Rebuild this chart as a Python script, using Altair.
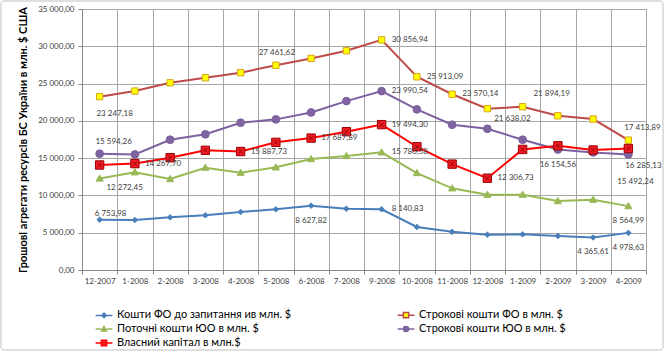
import altair as alt
import pandas as pd

categories = ["12-2007", "1-2008", "2-2008", "3-2008", "4-2008", "5-2008", "6-2008", "7-2008",
              "9-2008", "10-2008", "11-2008", "12-2008", "1-2009", "2-2009", "3-2009", "4-2009"]

series_names = [
    "Кошти ФО до запитання ив млн. $",
    "Строкові кошти ФО в млн. $",
    "Поточні кошти ЮО в млн. $",
    "Строкові кошти ЮО в млн. $",
    "Власний капітал в млн.$",
]

fo_demand = [6753.98, 6700, 7060, 7330, 7780, 8140, 8627.82, 8220, 8140.83, 5770, 5120, 4740, 4780, 4560, 4365.61, 4978.63]
fo_term = [23247.18, 24000, 25100, 25780, 26460, 27461.62, 28370, 29400, 30856.94, 25913.09, 23570.14, 21638.02, 21894.19, 20680, 20240, 17413.89]
yuo_current = [12272.45, 13100, 12200, 13720, 13050, 13770, 14880, 15290, 15780.58, 13000, 10950, 10100, 10100, 9250, 9430, 8564.99]
yuo_term = [15594.26, 15500, 17470, 18200, 19750, 20200, 21130, 22650, 23990.54, 21540, 19480, 18940, 17470, 16154.56, 15770, 15492.24]
equity = [14080, 14267.70, 15060, 16050, 15887.73, 17120, 17687.89, 18550, 19494.30, 16530, 14200, 12306.73, 16170, 16660, 16090, 16285.13]

all_values = [fo_demand, fo_term, yuo_current, yuo_term, equity]

# legend reads down the first column, then the second
legend_order = [0, 2, 4, 1, 3]

# which values carry a data label, and where the label sits relative to its point
label_specs = [
    (0, "12-2007", "above_near"), (0, "6-2008", "below"), (0, "9-2008", "right"),
    (0, "3-2009", "below"), (0, "4-2009", "below"),
    (1, "12-2007", "below_right"), (1, "5-2008", "above_center"), (1, "9-2008", "right"),
    (1, "10-2008", "right"), (1, "11-2008", "right"), (1, "12-2008", "right_below"),
    (1, "1-2009", "above_right"), (1, "4-2009", "above"),
    (2, "12-2007", "right_below"), (2, "9-2008", "right"), (2, "4-2009", "below"),
    (3, "12-2007", "above"), (3, "9-2008", "right"), (3, "2-2009", "below"), (3, "4-2009", "below_far"),
    (4, "1-2008", "right"), (4, "4-2008", "right"), (4, "6-2008", "right"), (4, "9-2008", "right"),
    (4, "12-2008", "right"), (4, "4-2009", "below_right"),
]

placements = {
    "right": dict(align="left", dx=10, dy=0),
    "right_below": dict(align="center", dx=25, dy=10),
    "below": dict(align="center", dx=0, dy=15),
    "below_right": dict(align="center", dx=15, dy=17),
    "below_far": dict(align="center", dx=7, dy=28),
    "above": dict(align="center", dx=14, dy=-12),
    "above_center": dict(align="center", dx=1, dy=-12),
    "above_right": dict(align="center", dx=29, dy=-13),
    "above_near": dict(align="center", dx=11, dy=-6),
}

line_colors = ["#4a7ebb", "#be4b48", "#98b954", "#7d60a0", "#ff0000"]
fill_colors = ["#4a7ebb", "#ffff00", "#98b954", "#8064a2", "#ee1c25"]
edge_colors = ["#4a7ebb", "#d9a21b", "#98b954", "#7d60a0", "#9c0000"]
marker_paths = [
    "M0,-1L1,0L0,1L-1,0Z",
    "M-1,-1H1V1H-1Z",
    "M0,-1L1,0.75H-1Z",
    "circle",
    "M-1,-1H1V1H-1Z M-0.5,-0.5L0.5,0.5M0.5,-0.5L-0.5,0.5",
]
marker_sizes = [30, 70, 45, 75, 85]
legend_paths = [
    "M-1.2,0H-0.32M0.32,0H1.2M0,-0.32L0.32,0L0,0.32L-0.32,0Z",
    "M-1.2,0H-0.38M0.38,0H1.2M-0.38,-0.38H0.38V0.38H-0.38Z",
    "M-1.2,0H-0.35M0.35,0H1.2M0,-0.35L0.35,0.28H-0.35Z",
    "M-1.2,0H-0.36M0.36,0H1.2M-0.36,0A0.36,0.36 0 1 0 0.36,0A0.36,0.36 0 1 0 -0.36,0Z",
    "M-1.2,0H-0.38M0.38,0H1.2M-0.38,-0.38H0.38V0.38H-0.38Z",
]

rows = []
for name, vals in zip(series_names, all_values):
    for c, v in zip(categories, vals):
        rows.append({"series": name, "category": c, "value": v})
df = pd.DataFrame(rows)

lab_rows = []
for si, cat, place in label_specs:
    v = all_values[si][categories.index(cat)]
    lab_rows.append({"series": series_names[si], "category": cat, "value": v, "place": place})
labels_df = pd.DataFrame(lab_rows)

FONT = "Lato"

x_enc = alt.X(
    "category:N", sort=categories,
    scale=alt.Scale(type="band", domain=categories, paddingInner=0, paddingOuter=0),
    axis=alt.Axis(title=None, labelAngle=0, tickBand="extent", grid=True, gridColor="#a6a6a6",
                  domainColor="#868686", tickColor="#868686", tickSize=4, labelPadding=3,
                  labelFont=FONT, labelFontSize=8, labelColor="#404040"),
)
y_enc = alt.Y(
    "value:Q",
    scale=alt.Scale(domain=[0, 35000], nice=False),
    axis=alt.Axis(values=list(range(0, 35001, 5000)), format=",.2f", grid=True, gridColor="#a6a6a6",
                  domainColor="#868686", tickColor="#868686", tickSize=4, labelPadding=4,
                  labelFont=FONT, labelFontSize=8, labelColor="#404040",
                  title="Грошові агрегати ресурсів БС України в млн. $ США",
                  titleFont=FONT, titleFontSize=11, titleFontWeight="bold", titleColor="black",
                  titlePadding=9),
)

legend = alt.Legend(
    title=None, orient="none", legendX=14, legendY=298, columns=2, columnPadding=102,
    rowPadding=0, padding=0, symbolSize=196, symbolOpacity=1, symbolStrokeWidth=1.5,
    labelFont=FONT, labelFontSize=11, labelColor="black", labelLimit=400, labelOffset=5,
)

leg_domain = [series_names[i] for i in legend_order]

base = alt.Chart(df)

frame = alt.Chart(alt.Data(values=[{}])).mark_rect(
    fill="transparent", stroke="#bfbfbf", strokeWidth=1, cornerRadius=3
).encode(x=alt.value(-81), x2=alt.value(581), y=alt.value(-8), y2=alt.value(341))

lines = base.mark_line(strokeWidth=2).encode(
    x=x_enc, y=y_enc,
    color=alt.Color("series:N", scale=alt.Scale(domain=series_names, range=line_colors), legend=None),
)

points = base.mark_point(filled=True, opacity=1, strokeWidth=1).encode(
    x=x_enc, y=y_enc,
    fill=alt.Fill("series:N", scale=alt.Scale(domain=series_names, range=fill_colors), legend=None),
    stroke=alt.Stroke("series:N", scale=alt.Scale(domain=series_names, range=edge_colors), legend=None),
    shape=alt.Shape("series:N", scale=alt.Scale(domain=series_names, range=marker_paths), legend=None),
    size=alt.Size("series:O", scale=alt.Scale(domain=series_names, range=marker_sizes), legend=None),
)

# invisible layer whose only job is to carry the legend (line + marker symbols)
legend_layer = base.mark_point(filled=True, opacity=0, strokeWidth=1.5).encode(
    x=x_enc, y=y_enc,
    fill=alt.Fill("series:N", scale=alt.Scale(domain=leg_domain, range=[fill_colors[i] for i in legend_order]),
                  legend=legend),
    stroke=alt.Stroke("series:N", scale=alt.Scale(domain=leg_domain, range=[line_colors[i] for i in legend_order]),
                      legend=legend),
    shape=alt.Shape("series:N", scale=alt.Scale(domain=leg_domain, range=[legend_paths[i] for i in legend_order]),
                    legend=legend),
)

text_layers = []
for pname, p in placements.items():
    sub = labels_df[labels_df["place"] == pname]
    if len(sub) == 0:
        continue
    text_layers.append(
        alt.Chart(sub).mark_text(font=FONT, fontSize=8, color="#404040", baseline="middle", **p).encode(
            x=x_enc, y=y_enc, text=alt.Text("value:Q", format=",.2f")
        )
    )

chart = alt.layer(frame, lines, points, legend_layer, *text_layers).resolve_scale(
    fill="independent", stroke="independent", shape="independent", size="independent"
).properties(
    width=564, height=261,
    autosize=alt.AutoSizeParams(type="none"),
    padding={"left": 82, "top": 9, "right": 20, "bottom": 83},
    background="white",
).configure_view(stroke="#a6a6a6", strokeWidth=1).configure(
    locale={"number": {"decimal": ",", "thousands": " ", "grouping": [3], "currency": ["", ""]}}
)

chart.save("out.html", embed_options={"renderer": "svg", "actions": False})
